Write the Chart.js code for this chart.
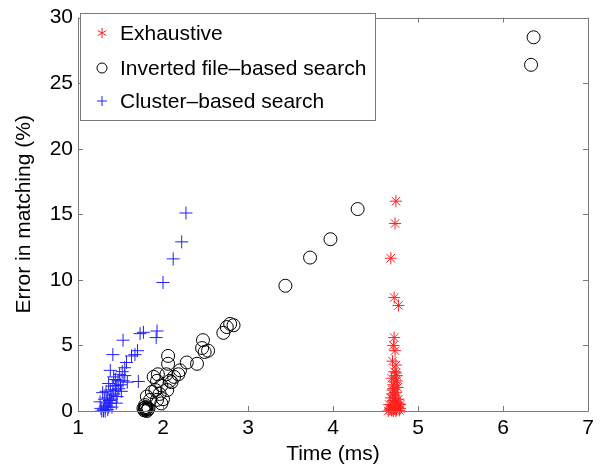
<!DOCTYPE html>
<html>
<head>
<meta charset="utf-8">
<script src="https://cdn.jsdelivr.net/npm/chart.js@4.4.0/dist/chart.umd.min.js"></script>
<style>
  html, body { margin: 0; padding: 0; background: #fff; }
  #wrap { width: 608px; height: 470px; }
</style>
</head>
<body>
<div id="wrap"><canvas id="mygraph" width="608" height="470"></canvas></div>
<script>
// series: time (ms) vs error in matching (%)
const seriesNames = ['Exhaustive', 'Inverted file\u2013based search', 'Cluster\u2013based search'];

const exhaustiveTime = [4.74, 4.73, 4.68, 4.72, 4.77, 4.72, 4.71, 4.73, 4.70, 4.74, 4.72, 4.75, 4.69, 4.73,
  4.71, 4.76, 4.70, 4.74, 4.72, 4.68, 4.77, 4.71, 4.74, 4.66, 4.79, 4.70, 4.73, 4.76, 4.68, 4.72, 4.75,
  4.69, 4.71, 4.74, 4.78, 4.67, 4.77, 4.73, 4.70, 4.75, 4.72, 4.79, 4.65, 4.71, 4.74];
const exhaustiveError = [16.0, 14.3, 11.65, 8.65, 8.05, 5.6, 5.0, 4.6, 3.8, 3.5, 3.0, 2.7, 2.5, 2.2,
  2.0, 1.8, 1.6, 1.4, 1.2, 1.0, 0.9, 0.8, 0.7, 0.5, 0.5, 0.4, 0.35, 0.3, 0.2, 0.15, 0.1,
  0.05, 0.0, 0.0, 0.05, 0.1, 0.6, 1.0, 1.3, 2.3, 0.5, 0.2, 0.0, 1.7, 2.9];

const invertedTime = [6.36, 6.33, 4.29, 3.97, 3.73, 3.44, 2.83, 2.79, 2.75, 2.71, 2.47, 2.46, 2.53, 2.49,
  2.40, 2.28, 2.20, 2.18, 2.06, 2.06, 2.08, 2.04, 2.10, 1.94, 1.89, 1.93, 1.98, 1.91, 1.96, 1.87,
  1.81, 1.85, 1.93, 1.98, 1.79, 1.83, 1.79, 1.78, 1.80, 1.81, 1.79, 1.82, 1.77, 1.80, 2.00, 2.05, 2.13];
const invertedError = [28.5, 26.4, 15.4, 13.1, 11.7, 9.55, 6.54, 6.64, 6.4, 5.96, 5.4, 4.8, 4.6, 4.5,
  3.6, 3.7, 3.1, 2.8, 4.2, 3.6, 2.3, 2.8, 2.2, 2.8, 2.6, 2.3, 1.95, 1.6, 1.3, 1.45,
  1.1, 0.85, 0.85, 0.58, 0.45, 0.2, 0.1, 0.05, 0.15, 0.0, 0.25, 0.1, 0.2, 0.3, 0.9, 1.6, 2.6];

const clusterTime = [2.27, 2.22, 2.12, 2.00, 1.93, 1.92, 1.77, 1.73, 1.53, 1.70, 1.67, 1.63, 1.41, 1.57,
  1.55, 1.38, 1.42, 1.55, 1.53, 1.71, 1.47, 1.45, 1.44, 1.40, 1.37, 1.34, 1.32, 1.30,
  1.28, 1.30, 1.32, 1.35, 1.27, 1.33, 1.36, 1.38, 1.31, 1.35, 1.39, 1.42, 1.33, 1.38, 1.46,
  1.48, 1.41, 1.50, 1.44, 1.49, 1.52, 1.36, 1.29, 1.45, 1.40, 1.26, 1.51, 1.58];
const clusterError = [15.1, 12.9, 11.6, 9.8, 6.1, 5.6, 6.0, 5.9, 5.4, 4.6, 4.3, 4.2, 4.3, 3.7,
  3.3, 3.1, 2.6, 2.7, 2.3, 2.25, 2.3, 1.95, 1.6, 1.2, 0.8, 0.6, 0.3, 0.1,
  0.0, 0.0, 0.0, 0.1, 0.2, 0.4, 0.3, 0.6, 0.9, 1.0, 0.9, 1.3, 1.5, 1.6, 1.1,
  1.7, 1.9, 2.0, 2.4, 2.8, 3.0, 2.1, 1.4, 0.6, 0.3, 0.7, 1.5, 2.2];

const xTicks = [1, 2, 3, 4, 5, 6, 7];
const yTicks = [0, 5, 10, 15, 20, 25, 30];

const pairs = (xs, ys) => xs.map((x, i) => ({ x: x, y: ys[i] }));

const FONT = 'Liberation Sans, Arial, sans-serif';
const FONT_SIZE = 21;
const AXIS_COLOR = '#7a7a7a';

// MATLAB-like box with inward ticks on all four sides
const boxFrame = {
  id: 'boxFrame',
  afterDraw(chart) {
    const { ctx, chartArea: a, scales } = chart;
    const len = 5;
    ctx.save();
    ctx.strokeStyle = AXIS_COLOR;
    ctx.lineWidth = 1;
    ctx.beginPath();
    ctx.rect(Math.round(a.left) + 0.5, Math.round(a.top) + 0.5,
      Math.round(a.right - a.left), Math.round(a.bottom - a.top));
    xTicks.forEach(v => {
      const px = Math.round(scales.x.getPixelForValue(v)) + 0.5;
      ctx.moveTo(px, a.bottom); ctx.lineTo(px, a.bottom - len);
      ctx.moveTo(px, a.top); ctx.lineTo(px, a.top + len);
    });
    yTicks.forEach(v => {
      const py = Math.round(scales.y.getPixelForValue(v)) + 0.5;
      ctx.moveTo(a.left, py); ctx.lineTo(a.left + len, py);
      ctx.moveTo(a.right, py); ctx.lineTo(a.right - len, py);
    });
    ctx.stroke();

    // legend box in the upper left corner
    const bx = 80.5, by = 13.5, bw = 295, bh = 107;
    ctx.fillStyle = '#fff';
    ctx.fillRect(bx, by, bw, bh);
    ctx.strokeRect(bx, by, bw, bh);
    const rows = [33, 68, 101];
    const sx = 102;
    ctx.font = FONT_SIZE + 'px ' + FONT;
    ctx.textBaseline = 'middle';
    ctx.textAlign = 'left';
    chart.data.datasets.forEach((ds, i) => {
      const y = rows[i];
      const r = 5;
      ctx.strokeStyle = ds.borderColor;
      ctx.lineWidth = 1;
      ctx.beginPath();
      if (ds.pointStyle === 'circle') {
        ctx.arc(sx, y, r, 0, Math.PI * 2);
      } else if (ds.pointStyle === 'cross') {
        ctx.moveTo(sx - r, y); ctx.lineTo(sx + r, y);
        ctx.moveTo(sx, y - r); ctx.lineTo(sx, y + r);
      } else {
        for (let k = 0; k < 3; k++) {
          const t = Math.PI / 2 + k * Math.PI / 3;
          ctx.moveTo(sx - r * Math.cos(t), y - r * Math.sin(t));
          ctx.lineTo(sx + r * Math.cos(t), y + r * Math.sin(t));
        }
      }
      ctx.stroke();
      ctx.fillStyle = '#000';
      ctx.fillText(ds.label, 120, y + 1);
    });
    ctx.restore();
  }
};

const data = {
  datasets: [
    {
      label: seriesNames[0],
      data: pairs(exhaustiveTime, exhaustiveError),
      pointStyle: 'star',
      radius: 6,
      borderColor: '#ff2020',
      backgroundColor: 'rgba(0,0,0,0)',
      borderWidth: 1,
      clip: false
    },
    {
      label: seriesNames[1],
      data: pairs(invertedTime, invertedError),
      pointStyle: 'circle',
      radius: 6.5,
      borderColor: '#000000',
      backgroundColor: 'rgba(0,0,0,0)',
      borderWidth: 1,
      clip: false
    },
    {
      label: seriesNames[2],
      data: pairs(clusterTime, clusterError),
      pointStyle: 'cross',
      radius: 6.5,
      borderColor: '#2020ff',
      backgroundColor: 'rgba(0,0,0,0)',
      borderWidth: 1,
      clip: false
    }
  ]
};

const config = {
  type: 'scatter',
  data,
  options: {
    responsive: false,
    animation: false,
    layout: { padding: { top: 12, right: 20, left: 0, bottom: 0 } },
    plugins: {
      legend: { display: false },
      tooltip: { enabled: false }
    },
    scales: {
      x: {
        type: 'linear',
        min: 1, max: 7,
        afterFit: s => { s.height = 59; },
        afterBuildTicks: s => { s.ticks = xTicks.map(v => ({ value: v })); },
        grid: { display: false, drawTicks: false },
        border: { display: false },
        ticks: { color: '#000', padding: 5, font: { family: FONT, size: FONT_SIZE }, maxRotation: 0 },
        title: { display: true, text: 'Time (ms)', color: '#000',
          font: { family: FONT, size: FONT_SIZE }, padding: { top: 0, bottom: 3 } }
      },
      y: {
        type: 'linear',
        min: 0, max: 30,
        afterFit: s => { s.width = 78; },
        afterBuildTicks: s => { s.ticks = yTicks.map(v => ({ value: v })); },
        grid: { display: false, drawTicks: false },
        border: { display: false },
        ticks: { color: '#000', padding: 5, font: { family: FONT, size: FONT_SIZE } },
        title: { display: true, text: 'Error in matching (%)', color: '#000',
          font: { family: FONT, size: FONT_SIZE }, padding: { top: 12, bottom: 0 } }
      }
    }
  },
  plugins: [boxFrame]
};

const mygraph = new Chart(document.getElementById('mygraph'), config);
</script>
</body>
</html>
